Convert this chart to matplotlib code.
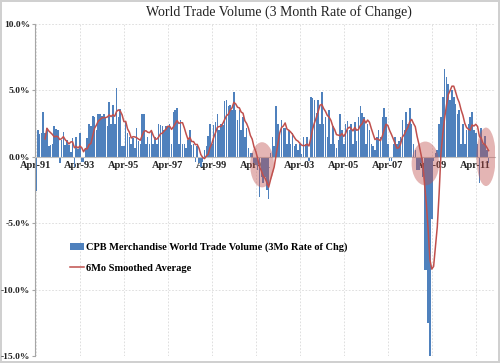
import matplotlib.pyplot as plt
import pandas as pd
from matplotlib.patches import Ellipse

# CPB world trade volume, 3 month rate of change (%), monthly from Apr-91
y1991 = [-2.6, 2.0, 1.7, 1.8, 3.4, 1.8, 2.2, 0.8, 0.9]  # Apr-Dec
y1992 = [1.0, 2.3, 2.1, 2.0, -0.5, 1.3, 1.9, 0.9, 1.3, 0.9, 0.4, 1.4]
y1993 = [-0.8, 1.5, 0.6, 1.8, -0.4, -0.4, 0.6, 1.4, 2.5, 2.3, 3.1, 3.0]
y1994 = [2.0, 3.2, 3.2, 3.1, 3.2, 3.0, 2.3, 4.1, 2.5, 3.9, 2.5, 5.2]
y1995 = [3.0, 3.6, 0.8, 0.8, 2.6, 1.8, 1.5, 1.0, 1.4, 0.7, 2.2, 1.2]
y1996 = [1.0, 3.2, 3.2, 1.0, 1.5, 1.0, 2.0, 1.0, 1.5, 1.0, 2.5, 2.4]
y1997 = [2.3, 2.0, 2.3, 2.3, 2.5, 1.0, 3.4, 3.5, 3.7, 1.0, 2.8, 1.0]
y1998 = [1.0, 0.7, 1.3, 2.0, 0.9, 1.0, -0.4, 0.8, -0.5, -0.8, -0.4, 0.5]
y1999 = [0.8, 1.6, 2.5, 1.0, 2.4, 2.6, 3.2, 2.0, 2.5, 2.4, 4.2, 4.3]
y2000 = [3.8, 3.9, 3.5, 4.9, 3.5, 2.8, 3.5, 2.0, 3.0, 1.5, 2.2, 0.7]
y2001 = [0.3, 0.3, -0.5, -0.6, -1.0, -3.0, -1.5, -2.0, -1.5, -2.5, -3.2, 0.3]
y2002 = [1.5, 0.8, 3.8, 2.5, 1.8, 2.8, 2.2, 2.2, 1.0, 2.0, 1.0, 1.8]
y2003 = [0.8, 1.0, 0.5, 1.0, 0.2, 1.5, 1.0, 1.5, -0.3, 4.5, 4.4, 4.3]
y2004 = [3.3, 4.3, 2.5, 4.9, 2.5, 3.0, 1.5, 3.5, 1.0, 2.3, 1.0, 0.7]
y2005 = [1.3, 3.2, 2.0, 1.0, 2.5, 2.7, 2.0, 2.5, 1.0, 2.6, 1.2, 3.0]
y2006 = [3.8, 3.3, 3.0, 1.0, 2.5, 2.0, 1.0, 0.8, 0.5, 1.5, 2.0, 1.5]
y2007 = [3.0, 3.7, 3.0, 1.0, -0.3, -0.3, 1.0, 1.5, 1.0, 1.2, 1.5, 2.8]
y2008 = [2.0, 3.4, 2.5, 3.7, 2.5, 1.0, 0.5, -1.0, -1.0, -0.5, -1.5, -8.5]
y2009 = [-8.5, -12.5, -15.0, -4.7, -0.3, 0.3, 0.5, 2.5, 3.0, 4.5, 6.6, 6.0]
y2010 = [5.5, 4.3, 5.0, 4.5, 4.0, 3.2, 3.5, 1.0, 2.5, 1.0, 2.0, 2.5]
y2011 = [3.0, 3.4, 2.0, 1.8, 1.0, -2.0, 2.2, 1.0, 1.6, 0.5, -0.5]  # Jan-Nov

tick_labels = ['Apr-91', 'Apr-93', 'Apr-95', 'Apr-97', 'Apr-99', 'Apr-01',
               'Apr-03', 'Apr-05', 'Apr-07', 'Apr-09', 'Apr-11']
ytick_labels = ['10.0%', '5.0%', '0.0%', '-5.0%', '-10.0%', '-15.0%']

vals = (y1991 + y1992 + y1993 + y1994 + y1995 + y1996 + y1997 + y1998 + y1999
        + y2000 + y2001 + y2002 + y2003 + y2004 + y2005 + y2006 + y2007
        + y2008 + y2009 + y2010 + y2011)
s = pd.Series(vals, index=range(len(vals)))
smooth = s.rolling(6).mean()

plt.rcParams['font.family'] = ['Liberation Serif', 'DejaVu Serif']

fig = plt.figure(figsize=(5, 3.63), dpi=100)
fig.patch.set_edgecolor('#d0d0d0')
fig.patch.set_linewidth(1.5)
ax = fig.add_axes([0.07, 0.019, 0.92, 0.915])

# spine position first: it resets the ticks
ax.spines['top'].set_visible(False)
ax.spines['right'].set_visible(False)
ax.spines['bottom'].set_position(('data', 0))
ax.spines['bottom'].set_color('#bfbfbf')
ax.spines['left'].set_color('#a6a6a6')

bars = ax.bar(s.index, s.values, width=0.85, color='#4f81bd', zorder=2)
line, = ax.plot(smooth.index, smooth.values, color='#c0504d', lw=1.1, zorder=3)

# highlighted spots
for cx, cy, w, h in [(123.4, -0.6, 13, 3.4), (212.5, -0.5, 15, 3.3), (245.6, 0.0, 10.5, 4.4)]:
    ax.add_patch(Ellipse((cx, cy), w, h, facecolor='#c0504d', alpha=0.42,
                         edgecolor='none', zorder=4))

ax.set_xlim(-0.5, 250.5)
ax.set_ylim(-15, 10)
ax.set_yticks([10, 5, 0, -5, -10, -15])
ax.set_yticklabels(ytick_labels, fontsize=6.8, fontweight='bold', color='#222222')
ax.set_xticks(range(0, 241, 24))
ax.set_xticklabels(tick_labels, fontsize=7.5, fontweight='bold', color='#222222')
ax.tick_params(axis='x', length=0, pad=3)
ax.tick_params(axis='y', length=2, color='#a6a6a6', pad=1.5)

ax.grid(True, linestyle=(0, (2, 2)), color='#d9d9d9', lw=0.6)
ax.set_axisbelow(True)

ax.set_title('World Trade Volume (3 Month Rate of Change)', fontsize=10,
             color='#222222', pad=6, x=0.53)

ax.legend([bars, line], ['CPB Merchandise World Trade Volume (3Mo Rate of Chg)',
                         '6Mo Smoothed Average'],
          loc='upper left', bbox_to_anchor=(0.055, 0.37), frameon=False,
          prop={'weight': 'bold', 'size': 7.5}, handlelength=1.4,
          handletextpad=0.2, labelspacing=1.1)

fig.savefig('out.png', dpi=100)
